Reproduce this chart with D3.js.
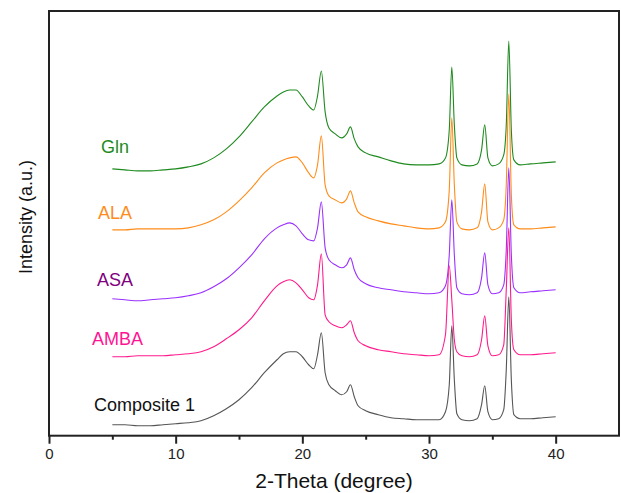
<!DOCTYPE html>
<html>
<head>
<meta charset="utf-8">
<script src="https://cdn.jsdelivr.net/npm/d3@7"></script>
<style>
  html, body { margin: 0; padding: 0; background: #fff; }
  svg { display: block; font-family: "Liberation Sans", Arial, sans-serif; }
</style>
</head>
<body>
<svg id="chart" width="621" height="493"></svg>
<script>

const theta = [5, 6, 7, 8, 9, 10, 11, 12, 13, 14, 15, 16, 17, 18, 18.5, 19, 19.5, 20, 20.5, 20.9,
  21.2, 21.5, 21.8, 22.1, 22.6, 23.1, 23.5, 23.8, 24.1, 24.4, 25, 26, 27, 28, 29, 30, 30.8, 31.3,
  31.6, 31.8, 32.0, 32.2, 32.6, 33.2, 33.8, 34.15, 34.4, 34.65, 35.0, 35.5, 35.9, 36.1, 36.3, 36.5,
  36.7, 37.2, 38, 39, 40];

const gln = [267, 266, 265, 265, 266, 267, 269, 272, 278, 287, 299, 314, 329, 340, 344, 346, 346, 339, 330, 326,
  340, 365, 324, 308, 302, 298, 302, 309, 297, 289, 283, 279, 275, 272, 271, 271, 272, 278,
  306, 369, 311, 278, 271, 270, 272, 286, 311, 278, 270, 272, 281, 311, 395, 306,
  276, 271, 272, 273, 274];

const ala = [206, 206, 207, 207, 207, 207, 208, 211, 216, 224, 235, 248, 263, 273, 276, 278, 279, 273, 263, 258,
  271, 300, 251, 240, 236, 233, 237, 245, 233, 224, 219, 215, 212, 210, 208, 207, 208, 214,
  246, 318, 251, 214, 207, 206, 208, 224, 252, 214, 206, 208, 216, 251, 342, 241,
  211, 207, 207, 208, 209];

const asa = [137, 136, 135, 136, 137, 138, 140, 143, 149, 157, 168, 181, 197, 208, 211, 213, 210, 202, 196, 195,
  208, 234, 188, 176, 171, 168, 171, 178, 166, 158, 152, 148, 146, 144, 143, 142, 143, 150,
  181, 236, 181, 148, 142, 141, 143, 158, 183, 151, 142, 143, 151, 186, 268, 181,
  148, 143, 144, 145, 146];

const amba = [79, 79, 80, 80, 80, 81, 82, 84, 89, 97, 106, 118, 135, 150, 154, 156, 153, 146, 138, 136,
  151, 182, 121, 114, 110, 108, 111, 115, 103, 95, 90, 86, 84, 82, 81, 80, 81, 101,
  170, 136, 96, 84, 80, 79, 81, 96, 120, 90, 80, 81, 91, 146, 208, 116,
  86, 81, 81, 82, 83];

const composite = [11, 11, 10, 10, 11, 12, 13, 15, 20, 27, 36, 48, 63, 76, 82, 84, 84, 79, 71, 67,
  81, 103, 63, 51, 45, 41, 44, 51, 39, 30, 25, 21, 18, 17, 16, 16, 16, 24,
  51, 110, 56, 22, 16, 15, 17, 31, 50, 24, 16, 17, 26, 66, 139, 56,
  21, 17, 17, 18, 19];

const seriesNames = ['Gln', 'ALA', 'ASA', 'AMBA', 'Composite 1'];
const lineColors = ['#1f8a1f', '#ff8c1a', '#9b30ff', '#ff1a8c', '#555555'];
const labelColors = ['#1f8a1f', '#ff8c1a', '#800080', '#ff1493', '#111111'];
// where each label sits, in data units (theta, intensity)
const labelTheta = [4.1, 3.87, 3.79, 3.4, 3.55];
const labelLevel = [289, 223, 156, 97, 31];

const majorTicks = [0, 10, 20, 30, 40];
const minorTicks = [5, 15, 25, 35];

const allSeries = [gln, ala, asa, amba, composite];

const W = 621, H = 493;
const m = { left: 49, right: 2, top: 11, bottom: 57 };
const svg = d3.select('#chart');

const x = d3.scaleLinear().domain([0, 45]).range([m.left, W - m.right]);
const y = d3.scaleLinear().domain([0, 425]).range([H - m.bottom - 0.3, m.top]);

// series
const line = d3.line()
  .x((d) => x(d[0]))
  .y((d) => y(d[1]))
  .curve(d3.curveMonotoneX);

svg.append('g').attr('class', 'series')
  .selectAll('path').data(allSeries).join('path')
  .attr('d', (s) => line(theta.map((t, i) => [t, s[i]])))
  .attr('fill', 'none')
  .attr('stroke', (s, i) => lineColors[i])
  .attr('stroke-width', 1.1)
  .attr('stroke-linejoin', 'round');

// labels
svg.append('g').selectAll('text').data(seriesNames).join('text')
  .attr('x', (d, i) => x(labelTheta[i]))
  .attr('y', (d, i) => y(labelLevel[i]))
  .attr('dy', '0.36em')
  .attr('font-size', 18)
  .attr('fill', (d, i) => labelColors[i])
  .text((d) => d);

// frame
svg.append('rect')
  .attr('x', x(0)).attr('y', y(425))
  .attr('width', x(45) - x(0))
  .attr('height', y(0) - y(425))
  .attr('fill', 'none')
  .attr('stroke', '#222')
  .attr('stroke-width', 2);

// x axis
const xAxis = svg.append('g')
  .attr('transform', `translate(0,${y(0)})`)
  .call(d3.axisBottom(x).tickValues(majorTicks).tickSize(8).tickPadding(5).tickFormat(d3.format('d')));
xAxis.select('.domain').remove();
xAxis.selectAll('line').attr('stroke', '#222').attr('stroke-width', 2);
xAxis.selectAll('text').attr('font-size', 15).attr('fill', '#222')
  .attr('font-family', '"Liberation Sans", Arial, sans-serif');

const xMinor = svg.append('g')
  .attr('transform', `translate(0,${y(0)})`)
  .call(d3.axisBottom(x).tickValues(minorTicks).tickSize(4).tickFormat(''));
xMinor.select('.domain').remove();
xMinor.selectAll('line').attr('stroke', '#222').attr('stroke-width', 2);

// axis titles
svg.append('text')
  .attr('x', (x(0) + x(45)) / 2)
  .attr('y', 488)
  .attr('text-anchor', 'middle')
  .attr('font-size', 21)
  .attr('fill', '#111')
  .text('2-Theta (degree)');

svg.append('text')
  .attr('transform', 'translate(32,217) rotate(-90)')
  .attr('text-anchor', 'middle')
  .attr('font-size', 18)
  .attr('fill', '#111')
  .text('Intensity (a.u.)');
</script>
</body>
</html>
